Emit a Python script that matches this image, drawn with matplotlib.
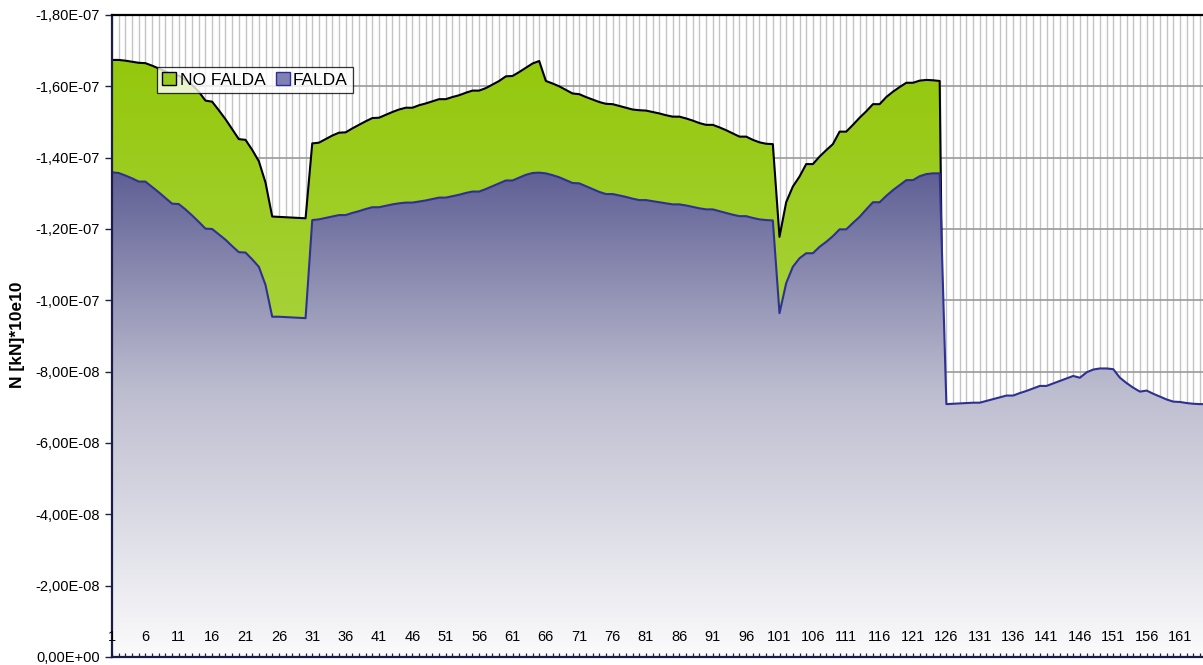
import numpy as np
import matplotlib
matplotlib.use("Agg")
import matplotlib.pyplot as plt
import matplotlib.transforms as mtransforms
from matplotlib.patches import PathPatch, Patch
from matplotlib.ticker import FuncFormatter, FixedLocator
from matplotlib.colors import LinearSegmentedColormap

plt.rcParams['font.family'] = ['Liberation Sans', 'DejaVu Sans']

# axial force per section, in units of 1e-8
SCALE = 1e-8
categories = list(range(1, 166))

no_falda = [
    -16.74, -16.74, -16.72, -16.69, -16.66, -16.65, -16.58, -16.50, -16.42, -16.32,
    -16.30, -16.18, -16.04, -15.85, -15.60, -15.57, -15.33, -15.08, -14.80, -14.52,
    -14.50, -14.22, -13.90, -13.30, -12.35, -12.34, -12.33, -12.32, -12.31, -12.30,
    -14.40, -14.42, -14.52, -14.62, -14.70, -14.71, -14.82, -14.92, -15.02, -15.11,
    -15.12, -15.20, -15.28, -15.35, -15.40, -15.40, -15.47, -15.52, -15.58, -15.64,
    -15.64, -15.70, -15.75, -15.82, -15.88, -15.88, -15.95, -16.05, -16.15, -16.28,
    -16.29, -16.40, -16.52, -16.64, -16.71, -16.15, -16.08, -16.00, -15.90, -15.80,
    -15.78, -15.70, -15.63, -15.56, -15.51, -15.50, -15.45, -15.40, -15.35, -15.33,
    -15.32, -15.28, -15.24, -15.19, -15.15, -15.15, -15.10, -15.04, -14.97, -14.92,
    -14.92, -14.85, -14.77, -14.68, -14.59, -14.59, -14.50, -14.43, -14.39, -14.38,
    -11.78, -12.75, -13.19, -13.47, -13.82, -13.82, -14.03, -14.21, -14.38, -14.73,
    -14.73, -14.92, -15.12, -15.30, -15.50, -15.50, -15.70, -15.85, -15.98, -16.10,
    -16.10, -16.16, -16.18, -16.17, -16.15,
]
# no values past section 125
no_falda += [0.0] * (len(categories) - len(no_falda))

falda = [
    -13.59, -13.57, -13.50, -13.42, -13.33, -13.33, -13.18, -13.03, -12.87, -12.71,
    -12.70, -12.55, -12.38, -12.20, -12.01, -12.00, -11.85, -11.70, -11.52, -11.35,
    -11.34, -11.15, -10.94, -10.43, -9.54, -9.54, -9.53, -9.52, -9.51, -9.50,
    -12.25, -12.27, -12.31, -12.35, -12.39, -12.39, -12.45, -12.50, -12.56, -12.61,
    -12.61, -12.65, -12.69, -12.72, -12.74, -12.74, -12.77, -12.80, -12.84, -12.88,
    -12.88, -12.92, -12.96, -13.01, -13.05, -13.05, -13.12, -13.20, -13.28, -13.36,
    -13.36, -13.44, -13.52, -13.57, -13.58, -13.56, -13.51, -13.45, -13.37, -13.29,
    -13.28, -13.20, -13.12, -13.04, -12.98, -12.98, -12.94, -12.90, -12.85, -12.81,
    -12.81, -12.78, -12.75, -12.72, -12.69, -12.69, -12.66, -12.62, -12.58, -12.55,
    -12.55, -12.50, -12.45, -12.40, -12.36, -12.36, -12.31, -12.27, -12.25, -12.24,
    -9.64, -10.48, -10.94, -11.18, -11.32, -11.32, -11.50, -11.64, -11.80, -11.99,
    -11.99, -12.17, -12.34, -12.55, -12.75, -12.75, -12.93, -13.09, -13.23, -13.37,
    -13.37, -13.48, -13.54, -13.56, -13.56, -7.09, -7.10, -7.11, -7.12, -7.13,
    -7.13, -7.18, -7.23, -7.28, -7.33, -7.33, -7.40, -7.46, -7.53, -7.60,
    -7.60, -7.67, -7.74, -7.81, -7.88, -7.83, -7.98, -8.06, -8.09, -8.09,
    -8.07, -7.83, -7.68, -7.55, -7.44, -7.47, -7.38, -7.30, -7.22, -7.16,
    -7.15, -7.12, -7.10, -7.09, -7.09,
]

series_labels = ["NO FALDA", "FALDA"]
y_ticks = [0, -2, -4, -6, -8, -10, -12, -14, -16, -18]
x_tick_cats = categories[::5]


def gradient_area(ax, x, y, colors, line_color, z):
    """Area from 0 to y filled with a vertical gradient (bottom -> top colours)."""
    shape = ax.fill_between(x, 0, y, facecolor='none', edgecolor='none', zorder=z)
    clip = PathPatch(shape.get_paths()[0], transform=ax.transData,
                     facecolor='none', edgecolor='none')
    ax.add_patch(clip)
    cmap = LinearSegmentedColormap.from_list('area', colors)
    grad = np.linspace(0, 1, 256).reshape(-1, 1)
    im = ax.imshow(grad, cmap=cmap, aspect='auto', origin='lower',
                   extent=(x[0], x[-1], 0, y.min()), zorder=z,
                   interpolation='bilinear')
    im.set_clip_path(clip)
    ax.plot(x, y, color=line_color, lw=1.5, zorder=z + 0.05,
            solid_joinstyle='round')


x = np.array(categories, dtype=float)
y_nf = np.array(no_falda) * SCALE
y_f = np.array(falda) * SCALE
y_top = y_ticks[-1] * SCALE

fig = plt.figure(figsize=(12.03, 6.65), dpi=100)
W, H = 1203, 665
ax = fig.add_axes([112 / W, 8 / H, 1 - 112 / W, (657 - 15) / H])

# grid drawn by hand so the axis (ticks, spines) can stay above the areas
ax.vlines(categories, 0, y_top, color='#c4c4c4', lw=1.0, zorder=0.1)
ax.hlines([v * SCALE for v in y_ticks], 0, len(categories) + 1,
          color='#9a9a9a', lw=1.2, zorder=0.2)

gradient_area(ax, x, y_nf, [(0.0, '#c0de72'), (1.0, '#94c80c')], '#000000', 0.5)
gradient_area(ax, x, y_f, [(0.0, '#fbfbfc'), (0.55, '#bdbdd0'), (1.0, '#5f5f95')],
              '#2e3192', 0.7)

ax.set_xlim(1, 1 + (W - 112) / 6.675)
ax.set_ylim(0, y_top)

ax.xaxis.set_minor_locator(FixedLocator(categories))
ax.set_xticks(x_tick_cats)
ax.set_xticklabels([])
ax.set_yticks([v * SCALE for v in y_ticks])

ax.yaxis.set_major_formatter(FuncFormatter(lambda v, p: f"{v:.2E}".replace('.', ',')))
ax.tick_params(axis='y', direction='out', length=5, width=1, labelsize=10.5,
               color='#20204a')
ax.tick_params(axis='x', which='both', direction='in', length=3, width=0.9,
               color='#20204a', top=False)

# category labels sit just above the base line, on top of the areas
trans = mtransforms.blended_transform_factory(ax.transData, ax.transAxes)
for c in x_tick_cats:
    ax.text(c, 20 / 642, str(c), transform=trans, ha='center', va='center',
            fontsize=10.5, zorder=8)

for side in ('left', 'bottom'):
    ax.spines[side].set_color('#1c1c48')
    ax.spines[side].set_linewidth(1.6)
ax.spines['top'].set_color('#000000')
ax.spines['top'].set_linewidth(1.6)
ax.spines['right'].set_visible(False)

fig.text(18 / W, 1 - 335 / H, "N [kN]*10e10", rotation=90, ha='center',
         va='center', fontsize=12.5, fontweight='bold')

handles = [
    Patch(facecolor='#9acb1c', edgecolor='#000000', lw=1.0),
    Patch(facecolor='#8080b4', edgecolor='#2e3192', lw=1.0),
]
leg = ax.legend(handles, series_labels, ncol=2, loc='upper left',
                bbox_to_anchor=(157 / W, 1 - 67 / H), bbox_transform=fig.transFigure,
                fontsize=12.5, frameon=True, fancybox=False, borderpad=0.3,
                handlelength=0.8, handleheight=0.8, handletextpad=0.2,
                columnspacing=0.6, borderaxespad=0)
leg.get_frame().set_edgecolor('#000000')
leg.get_frame().set_linewidth(0.9)
leg.set_zorder(10)

fig.savefig('out.png', dpi=100)
